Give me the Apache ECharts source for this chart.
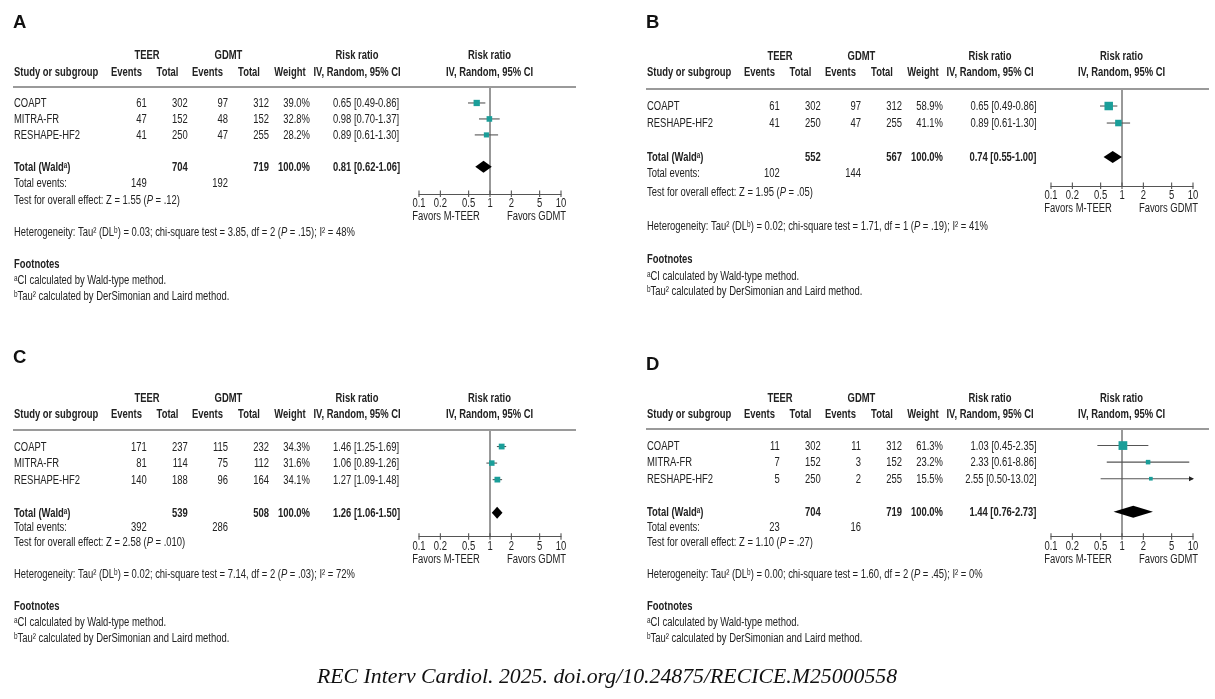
<!DOCTYPE html>
<html><head><meta charset="utf-8">
<script src="https://cdn.jsdelivr.net/npm/echarts/dist/echarts.min.js"></script>
<style>html,body{margin:0;padding:0;background:#fff}#c{width:1215px;height:699px}</style>
</head><body><div id="c"></div>
<script>
// ================= DATA =================
// Panel A
const studiesA = ['COAPT', 'MITRA-FR', 'RESHAPE-HF2'];
const teerEvA = [61, 47, 41];
const teerTotA = [302, 152, 250];
const gdmtEvA = [97, 48, 47];
const gdmtTotA = [312, 152, 255];
const weightA = [39.0, 32.8, 28.2];
const rrA = [0.65, 0.98, 0.89];
const ciLoA = [0.49, 0.70, 0.61];
const ciHiA = [0.86, 1.37, 1.30];
const pooledA = [0.81, 0.62, 1.06];      // RR, lo, hi
const totalsA = [704, 719];              // TEER total, GDMT total
const eventsA = [149, 192];
const testA = ['1.55', '.12'];           // Z, P
const hetA = ['0.03', '3.85', '2', '.15', '48%']; // tau2, chi2, df, P, I2

// Panel B
const studiesB = ['COAPT', 'RESHAPE-HF2'];
const teerEvB = [61, 41];
const teerTotB = [302, 250];
const gdmtEvB = [97, 47];
const gdmtTotB = [312, 255];
const weightB = [58.9, 41.1];
const rrB = [0.65, 0.89];
const ciLoB = [0.49, 0.61];
const ciHiB = [0.86, 1.30];
const pooledB = [0.74, 0.55, 1.00];
const totalsB = [552, 567];
const eventsB = [102, 144];
const testB = ['1.95', '.05'];
const hetB = ['0.02', '1.71', '1', '.19', '41%'];

// Panel C
const studiesC = ['COAPT', 'MITRA-FR', 'RESHAPE-HF2'];
const teerEvC = [171, 81, 140];
const teerTotC = [237, 114, 188];
const gdmtEvC = [115, 75, 96];
const gdmtTotC = [232, 112, 164];
const weightC = [34.3, 31.6, 34.1];
const rrC = [1.46, 1.06, 1.27];
const ciLoC = [1.25, 0.89, 1.09];
const ciHiC = [1.69, 1.26, 1.48];
const pooledC = [1.26, 1.06, 1.50];
const totalsC = [539, 508];
const eventsC = [392, 286];
const testC = ['2.58', '.010'];
const hetC = ['0.02', '7.14', '2', '.03', '72%'];

// Panel D
const studiesD = ['COAPT', 'MITRA-FR', 'RESHAPE-HF2'];
const teerEvD = [11, 7, 5];
const teerTotD = [302, 152, 250];
const gdmtEvD = [11, 3, 2];
const gdmtTotD = [312, 152, 255];
const weightD = [61.3, 23.2, 15.5];
const rrD = [1.03, 2.33, 2.55];
const ciLoD = [0.45, 0.61, 0.50];
const ciHiD = [2.35, 8.86, 13.02];
const pooledD = [1.44, 0.76, 2.73];
const totalsD = [704, 719];
const eventsD = [23, 16];
const testD = ['1.10', '.27'];
const hetD = ['0.00', '1.60', '2', '.45', '0%'];

// Axis ticks
const tickValues = [0.1, 0.2, 0.5, 1, 2, 5, 10];
const tickLabels = ['0.1', '0.2', '0.5', '1', '2', '5', '10'];
const favorsLabels = ['Favors M-TEER', 'Favors GDMT'];
const citation = 'REC Interv Cardiol. 2025. doi.org/10.24875/RECICE.M25000558';

// ================= FONTS =================
function hasFont(name) {
  const c = document.createElement('canvas').getContext('2d');
  const s = 'Study or subgroup 0123456789 WMT';
  c.font = '20px monospace'; const w1 = c.measureText(s).width;
  c.font = '20px "' + name + '", monospace'; const w2 = c.measureText(s).width;
  return Math.abs(w1 - w2) > 0.5;
}
const NARROW = hasFont('Liberation Sans Narrow');
const FF = NARROW ? '"Liberation Sans Narrow", "Liberation Sans", sans-serif' : '"Liberation Sans", Arial, sans-serif';
const FS = 12;
const SX = (NARROW ? 1 : 0.82) * (11.5 / FS);
const TXT = '#222';
const TEAL = '#1a9e99';

// ================= LAYOUT =================
const panels = [
  { key: 'A', studies: studiesA, teerEv: teerEvA, teerTot: teerTotA, gdmtEv: gdmtEvA, gdmtTot: gdmtTotA, weight: weightA,
    rr: rrA, lo: ciLoA, hi: ciHiA, pooled: pooledA, totals: totalsA, events: eventsA, test: testA, het: hetA,
    L: { dx: 0, fx: 0, letterY: 22.7, h1: 56, h2: 72.5, top: 87, height: 107, yMax: 6.7, totalRow: 5,
         evY: 184, testY: 201, hetY: 233, footY: 265, faY: 281, fbY: 297, align: 'left' } },
  { key: 'B', studies: studiesB, teerEv: teerEvB, teerTot: teerTotB, gdmtEv: gdmtEvB, gdmtTot: gdmtTotB, weight: weightB,
    rr: rrB, lo: ciLoB, hi: ciHiB, pooled: pooledB, totals: totalsB, events: eventsB, test: testB, het: hetB,
    L: { dx: 633, fx: 632, letterY: 22.7, h1: 56.7, h2: 73, top: 89, height: 97, yMax: 5.7, totalRow: 4,
         evY: 174, testY: 193, hetY: 227, footY: 260, faY: 277, fbY: 292, align: 'right' } },
  { key: 'C', studies: studiesC, teerEv: teerEvC, teerTot: teerTotC, gdmtEv: gdmtEvC, gdmtTot: gdmtTotC, weight: weightC,
    rr: rrC, lo: ciLoC, hi: ciHiC, pooled: pooledC, totals: totalsC, events: eventsC, test: testC, het: hetC,
    L: { dx: 0, fx: 0, letterY: 358, h1: 399, h2: 415, top: 430, height: 106.7, yMax: 6.45, totalRow: 5,
         evY: 528, testY: 543, hetY: 575, footY: 607, faY: 623, fbY: 639, align: 'left' } },
  { key: 'D', studies: studiesD, teerEv: teerEvD, teerTot: teerTotD, gdmtEv: gdmtEvD, gdmtTot: gdmtTotD, weight: weightD,
    rr: rrD, lo: ciLoD, hi: ciHiD, pooled: pooledD, totals: totalsD, events: eventsD, test: testD, het: hetD,
    L: { dx: 633, fx: 632, letterY: 365, h1: 399, h2: 415, top: 429, height: 107.7, yMax: 6.5, totalRow: 5,
         evY: 528, testY: 543, hetY: 575, footY: 607, faY: 623, fbY: 639, align: 'right' } }
];

// table column anchors (panel A coordinates)
const COL = { study: 14, teerEv: 146.7, teerTot: 187.7, gdmtEv: 228, gdmtTot: 269, weight: 310, rrLeft: 333, rrRight: 403.5,
  hTeer: 147, hGdmt: 228.5, hRR: 357, hEv1: 126.5, hTot1: 167.5, hEv2: 207.5, hTot2: 249, hW: 290, forest: 489.5 };

function T(x, y, text, o) {
  o = o || {};
  const st = { text: text, x: 0, y: 0, fill: o.fill || TXT, fontSize: o.size || FS, fontFamily: o.ff || FF,
    fontWeight: o.bold ? 'bold' : 'normal', fontStyle: o.italic ? 'italic' : 'normal',
    align: o.align || 'left', verticalAlign: 'middle' };
  if (o.rich) st.rich = o.rich;
  return { type: 'text', x: x, y: y, scaleX: o.sx != null ? o.sx : SX, silent: true, z: 10, style: st };
}
const richI = { i: { fontStyle: 'italic', fontSize: FS, fontFamily: FF, fill: TXT } };
const f2 = v => v.toFixed(2);
const rrText = (r, l, h) => f2(r) + ' [' + f2(l) + '-' + f2(h) + ']';

const graphics = [];
const grids = [], xAxes = [], yAxes = [], series = [];

panels.forEach((p, gi) => {
  const L = p.L, dx = L.dx, fx = L.fx;
  const unit = L.height / L.yMax;
  const rowY = r => L.top + r * unit;
  // letter
  graphics.push(T(13 + dx, L.letterY, p.key, { bold: true, size: 18.5, ff: '"Liberation Sans", Arial, sans-serif', sx: 1, fill: '#111' }));
  // headers
  graphics.push(T(COL.hTeer + dx, L.h1, 'TEER', { bold: true, align: 'center' }));
  graphics.push(T(COL.hGdmt + dx, L.h1, 'GDMT', { bold: true, align: 'center' }));
  graphics.push(T(COL.hRR + dx, L.h1, 'Risk ratio', { bold: true, align: 'center' }));
  graphics.push(T(COL.forest + fx, L.h1, 'Risk ratio', { bold: true, align: 'center' }));
  graphics.push(T(COL.study + dx, L.h2, 'Study or subgroup', { bold: true }));
  graphics.push(T(COL.hEv1 + dx, L.h2, 'Events', { bold: true, align: 'center' }));
  graphics.push(T(COL.hTot1 + dx, L.h2, 'Total', { bold: true, align: 'center' }));
  graphics.push(T(COL.hEv2 + dx, L.h2, 'Events', { bold: true, align: 'center' }));
  graphics.push(T(COL.hTot2 + dx, L.h2, 'Total', { bold: true, align: 'center' }));
  graphics.push(T(COL.hW + dx, L.h2, 'Weight', { bold: true, align: 'center' }));
  graphics.push(T(COL.hRR + dx, L.h2, 'IV, Random, 95% CI', { bold: true, align: 'center' }));
  graphics.push(T(COL.forest + fx, L.h2, 'IV, Random, 95% CI', { bold: true, align: 'center' }));
  // divider
  graphics.push({ type: 'line', silent: true, z: 5, shape: { x1: 13 + dx, y1: L.top, x2: 576 + dx, y2: L.top },
    style: { stroke: '#9a9a9a', lineWidth: 2.2 } });
  // study rows
  const rrX = L.align === 'left' ? COL.rrLeft + dx : COL.rrRight + dx;
  p.studies.forEach((s, i) => {
    const y = rowY(i + 1) + 0.7;
    graphics.push(T(COL.study + dx, y, s));
    graphics.push(T(COL.teerEv + dx, y, String(p.teerEv[i]), { align: 'right' }));
    graphics.push(T(COL.teerTot + dx, y, String(p.teerTot[i]), { align: 'right' }));
    graphics.push(T(COL.gdmtEv + dx, y, String(p.gdmtEv[i]), { align: 'right' }));
    graphics.push(T(COL.gdmtTot + dx, y, String(p.gdmtTot[i]), { align: 'right' }));
    graphics.push(T(COL.weight + dx, y, p.weight[i].toFixed(1) + '%', { align: 'right' }));
    graphics.push(T(rrX, y, rrText(p.rr[i], p.lo[i], p.hi[i]), { align: L.align }));
  });
  // total row
  const ty = rowY(L.totalRow) + 0.7;
  graphics.push(T(COL.study + dx, ty, 'Total (Wald\u1d43)', { bold: true }));
  graphics.push(T(COL.teerTot + dx, ty, String(p.totals[0]), { bold: true, align: 'right' }));
  graphics.push(T(COL.gdmtTot + dx, ty, String(p.totals[1]), { bold: true, align: 'right' }));
  graphics.push(T(COL.weight + dx, ty, '100.0%', { bold: true, align: 'right' }));
  graphics.push(T(rrX, ty, rrText(p.pooled[0], p.pooled[1], p.pooled[2]), { bold: true, align: L.align }));
  // total events / test / heterogeneity / footnotes
  graphics.push(T(COL.study + dx, L.evY, 'Total events:'));
  graphics.push(T(COL.teerEv + dx, L.evY, String(p.events[0]), { align: 'right' }));
  graphics.push(T(COL.gdmtEv + dx, L.evY, String(p.events[1]), { align: 'right' }));
  graphics.push(T(COL.study + dx, L.testY, 'Test for overall effect: Z = ' + p.test[0] + ' ({i|P} = ' + p.test[1] + ')', { rich: richI }));
  graphics.push(T(COL.study + dx, L.hetY, 'Heterogeneity: Tau\u00b2 (DL\u1d47) = ' + p.het[0] + '; chi-square test = ' + p.het[1] +
    ', df = ' + p.het[2] + ' ({i|P} = ' + p.het[3] + '); I\u00b2 = ' + p.het[4], { rich: richI }));
  graphics.push(T(COL.study + dx, L.footY, 'Footnotes', { bold: true }));
  graphics.push(T(COL.study + dx, L.faY, '\u1d43CI calculated by Wald-type method.'));
  graphics.push(T(COL.study + dx, L.fbY, '\u1d47Tau\u00b2 calculated by DerSimonian and Laird method.'));
  // favors labels
  const axisY = L.top + L.height;
  graphics.push(T(446 + fx, axisY + 22.5, favorsLabels[0], { align: 'center' }));
  graphics.push(T(536.5 + fx, axisY + 22.5, favorsLabels[1], { align: 'center' }));

  // ---- forest plot grid ----
  grids.push({ left: 419 + fx, top: L.top, width: 142, height: L.height });
  xAxes.push({ type: 'log', logBase: 10, min: 0.1, max: 10, gridIndex: gi,
    axisLine: { show: true, onZero: false, lineStyle: { color: '#555', width: 1.2 } },
    axisTick: { show: false }, axisLabel: { show: false }, splitLine: { show: false } });
  yAxes.push({ type: 'value', inverse: true, min: 0, max: L.yMax, gridIndex: gi, show: false });
  const yMax = L.yMax;
  // reference line at RR = 1
  series.push({ type: 'custom', xAxisIndex: gi, yAxisIndex: gi, silent: true, z: 1, data: [[1, 0]],
    renderItem: (params, api) => {
      const a = api.coord([1, 0]), b = api.coord([1, yMax]);
      return { type: 'line', shape: { x1: a[0], y1: a[1], x2: b[0], y2: b[1] }, style: { stroke: '#333', lineWidth: 1 } };
    } });
  // confidence intervals
  series.push({ type: 'custom', xAxisIndex: gi, yAxisIndex: gi, silent: true, z: 2,
    encode: { x: [0, 1], y: 2 },
    data: p.studies.map((s, i) => [p.lo[i], p.hi[i], i + 1]),
    renderItem: (params, api) => {
      const lo = api.value(0), hi = api.value(1), r = api.value(2);
      const a = api.coord([lo, r]), b = api.coord([Math.min(hi, 10), r]);
      const ch = [{ type: 'line', shape: { x1: a[0], y1: a[1], x2: b[0], y2: b[1] }, style: { stroke: '#555', lineWidth: 1.1 } }];
      if (hi > 10) {
        ch.push({ type: 'polygon', shape: { points: [[b[0] + 1, b[1]], [b[0] - 4, b[1] - 2.5], [b[0] - 4, b[1] + 2.5]] }, style: { fill: '#222' } });
      }
      return { type: 'group', children: ch };
    } });
  // study squares
  const sizes = p.weight.map(w => 0.11 * w + 2);
  series.push({ type: 'scatter', xAxisIndex: gi, yAxisIndex: gi, silent: true, z: 3, symbol: 'rect',
    symbolSize: (v, prm) => sizes[prm.dataIndex],
    itemStyle: { color: TEAL, opacity: 1 },
    data: p.rr.map((r, i) => [r, i + 1]) });
  // pooled diamond
  series.push({ type: 'custom', xAxisIndex: gi, yAxisIndex: gi, silent: true, z: 3,
    encode: { x: [0, 1, 2], y: 3 },
    data: [[p.pooled[1], p.pooled[0], p.pooled[2], L.totalRow]],
    renderItem: (params, api) => {
      const r = api.value(3);
      const a = api.coord([api.value(0), r]), m = api.coord([api.value(1), r]), b = api.coord([api.value(2), r]);
      return { type: 'polygon', shape: { points: [a, [m[0], m[1] - 6], b, [m[0], m[1] + 6]] }, style: { fill: '#000' } };
    } });
  // axis ticks & labels
  series.push({ type: 'custom', xAxisIndex: gi, yAxisIndex: gi, silent: true, z: 4,
    data: tickValues.map((v, i) => [v, yMax, i]),
    renderItem: (params, api) => {
      const c = api.coord([api.value(0), yMax]);
      const idx = api.value(2);
      return { type: 'group', children: [
        { type: 'line', shape: { x1: c[0], y1: c[1] - 3.5, x2: c[0], y2: c[1] + 3 }, style: { stroke: '#555', lineWidth: 1.1 } },
        { type: 'text', x: c[0], y: c[1] + 10, scaleX: SX,
          style: { text: tickLabels[idx], x: 0, y: 0, align: 'center', verticalAlign: 'middle', fontSize: FS, fontFamily: FF, fill: TXT } }
      ] };
    } });
});

graphics.push(T(607, 677, citation, { italic: true, size: 21.8, ff: '"Liberation Serif", "DejaVu Serif", serif', sx: 1, fill: '#111', align: 'center' }));

const chart = echarts.init(document.getElementById('c'), null, { renderer: 'canvas' });
chart.setOption({
  animation: false,
  backgroundColor: '#fff',
  grid: grids, xAxis: xAxes, yAxis: yAxes, series: series,
  graphic: { elements: graphics }
});
</script></body></html>
